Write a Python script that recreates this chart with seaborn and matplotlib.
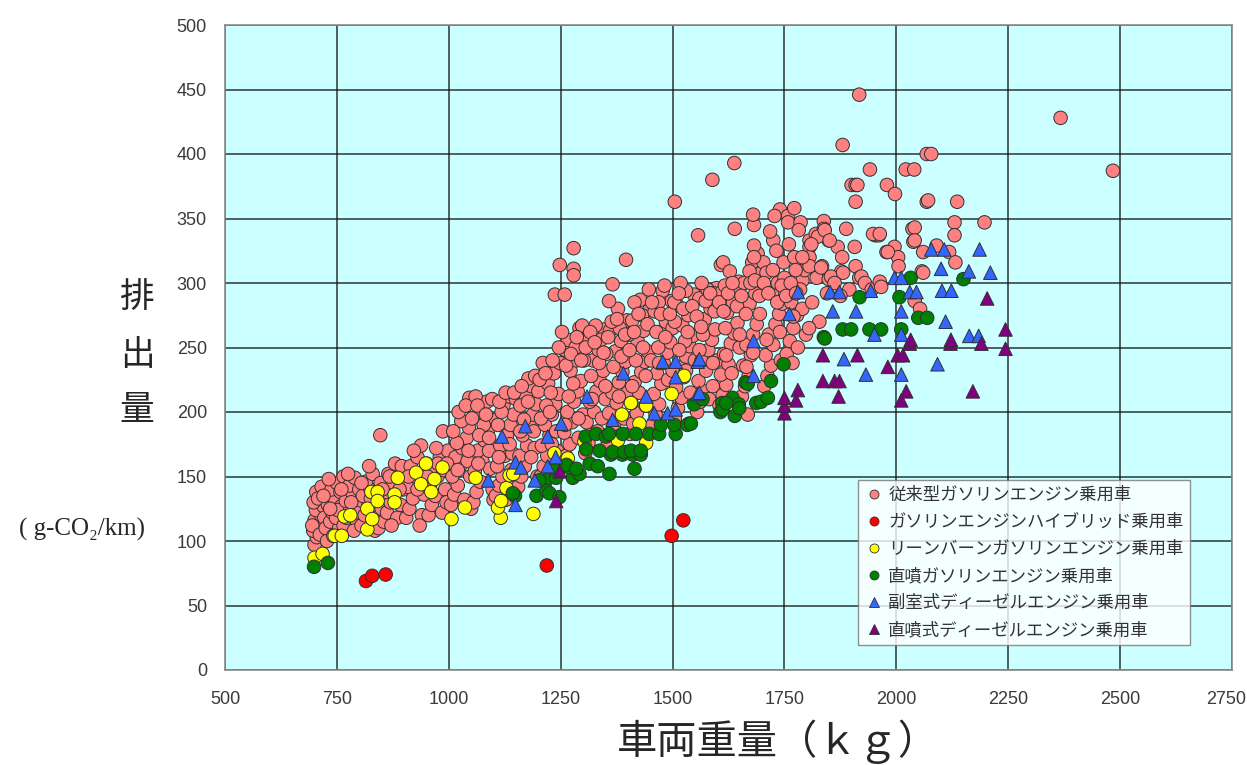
import pandas as pd
import matplotlib
matplotlib.use("Agg")
import matplotlib.pyplot as plt
import matplotlib.transforms as mtransforms
import seaborn as sns
from matplotlib.lines import Line2D

# series labels (legend order)
labels = ['従来型ガソリンエンジン乗用車', 'ガソリンエンジンハイブリッド乗用車',
          'リーンバーンガソリンエンジン乗用車', '直噴ガソリンエンジン乗用車',
          '副室式ディーゼルエンジン乗用車', '直噴式ディーゼルエンジン乗用車']

# conventional gasoline (weight kg, g-CO2/km)
conventional = [
    (700, 97), (705, 103), (697, 108), (712, 112), (700, 116), (715, 120), (703, 124), (720, 127),
    (698, 130), (710, 134), (704, 138), (716, 142), (708, 133), (722, 118), (695, 112), (712, 105),
    (725, 110), (735, 115), (740, 122), (730, 128), (745, 133), (738, 140), (750, 145), (728, 100),
    (755, 110), (748, 118), (760, 127), (732, 148), (742, 104), (758, 138), (765, 150), (752, 124),
    (765, 112), (772, 118), (780, 125), (770, 131), (785, 137), (778, 143), (790, 149), (795, 115),
    (788, 108), (798, 130), (775, 152), (800, 140), (792, 122),
    (805, 112), (812, 120), (820, 127), (808, 135), (825, 140), (815, 146), (830, 152), (840, 118),
    (845, 132), (835, 108), (848, 145), (822, 158), (850, 125), (843, 110), (847, 182),
    (855, 115), (862, 122), (870, 130), (858, 138), (875, 145), (865, 152), (880, 160), (885, 118),
    (892, 128), (898, 140), (888, 150), (872, 112), (895, 158),
    (905, 118), (912, 125), (920, 133), (908, 142), (925, 150), (915, 158), (930, 165), (940, 120),
    (945, 136), (938, 174), (948, 148), (935, 112), (950, 160), (922, 170),
    (955, 120), (962, 128), (970, 135), (958, 143), (975, 150), (965, 158), (980, 165), (985, 122),
    (992, 140), (998, 170), (988, 155), (972, 172), (995, 130), (987, 185),
    (1005, 128), (1012, 136), (1020, 143), (1008, 150), (1025, 158), (1015, 165), (1030, 172),
    (1040, 180), (1045, 188), (1028, 193), (1035, 132), (1048, 150), (1042, 162), (1018, 176),
    (1050, 125), (1046, 211),
    (1055, 130), (1062, 138), (1070, 146), (1058, 154), (1075, 162), (1065, 170), (1080, 178),
    (1088, 186), (1095, 194), (1072, 200), (1085, 208), (1060, 212), (1098, 140), (1092, 156),
    (1078, 190), (1068, 182), (1090, 170), (1100, 132),
    (1105, 135), (1112, 143), (1120, 150), (1108, 158), (1125, 166), (1115, 174), (1130, 182),
    (1138, 190), (1145, 198), (1122, 205), (1135, 212), (1110, 190), (1148, 140), (1142, 168),
    (1128, 132), (1118, 200), (1140, 155), (1150, 210),
    (1155, 142), (1162, 150), (1170, 158), (1158, 166), (1175, 174), (1165, 182), (1180, 190),
    (1188, 198), (1195, 206), (1172, 213), (1185, 220), (1160, 205), (1198, 150), (1192, 172),
    (1178, 226), (1168, 194), (1190, 185), (1200, 216),
    (1205, 150), (1212, 158), (1220, 166), (1208, 174), (1225, 182), (1215, 190), (1230, 198),
    (1238, 206), (1245, 214), (1222, 222), (1235, 230), (1210, 238), (1248, 238), (1242, 170),
    (1228, 215), (1218, 205), (1240, 185), (1250, 160), (1237, 291), (1259, 291), (1248, 314),
    (1279, 311), (1279, 306), (1279, 327),
    (1255, 158), (1262, 166), (1270, 175), (1258, 184), (1275, 192), (1265, 200), (1280, 208),
    (1288, 216), (1295, 224), (1272, 232), (1285, 240), (1260, 248), (1298, 256), (1292, 265),
    (1278, 222), (1268, 212), (1290, 180), (1300, 198), (1266, 256), (1283, 250),
    (1305, 168), (1312, 176), (1320, 184), (1308, 192), (1325, 200), (1315, 208), (1330, 216),
    (1338, 224), (1345, 232), (1322, 240), (1335, 248), (1310, 256), (1348, 264), (1328, 267),
    (1342, 195), (1318, 228), (1332, 185), (1350, 210), (1302, 240), (1340, 256), (1298, 267),
    (1355, 175), (1362, 183), (1370, 191), (1358, 199), (1375, 207), (1365, 215), (1380, 223),
    (1388, 231), (1395, 239), (1372, 247), (1385, 255), (1360, 263), (1398, 271), (1378, 280),
    (1358, 286), (1392, 195), (1368, 235), (1382, 265), (1352, 245), (1400, 215), (1366, 299),
    (1396, 318),
    (1405, 183), (1412, 191), (1420, 199), (1408, 207), (1425, 215), (1415, 223), (1430, 231),
    (1438, 239), (1445, 247), (1422, 255), (1435, 263), (1410, 271), (1448, 279), (1428, 287),
    (1415, 285), (1447, 295), (1440, 205), (1418, 240), (1432, 275), (1402, 260),
    (1455, 190), (1462, 198), (1470, 206), (1458, 214), (1475, 222), (1465, 230), (1480, 238),
    (1488, 246), (1495, 254), (1472, 262), (1485, 270), (1460, 278), (1498, 286), (1478, 294),
    (1469, 285), (1490, 225), (1468, 250), (1482, 298), (1452, 240), (1500, 265),
    (1505, 195), (1512, 203), (1520, 211), (1508, 219), (1525, 227), (1515, 235), (1530, 243),
    (1538, 251), (1545, 259), (1522, 267), (1535, 275), (1510, 283), (1548, 291), (1530, 294),
    (1518, 300), (1540, 215), (1528, 255), (1505, 270), (1550, 240), (1515, 248), (1505, 363),
    (1555, 200), (1562, 208), (1570, 216), (1558, 224), (1575, 232), (1565, 240), (1580, 248),
    (1588, 256), (1595, 264), (1572, 272), (1585, 280), (1560, 288), (1598, 296), (1578, 295),
    (1592, 292), (1565, 300), (1590, 220), (1568, 260), (1582, 210), (1600, 240), (1557, 337),
    (1589, 380), (1608, 314), (1613, 316),
    (1605, 205), (1612, 213), (1620, 221), (1608, 229), (1625, 237), (1615, 245), (1630, 253),
    (1638, 261), (1645, 269), (1622, 277), (1635, 285), (1610, 293), (1648, 301), (1628, 309),
    (1617, 298), (1642, 295), (1632, 230), (1618, 265), (1650, 250), (1668, 198), (1638, 393),
    (1639, 342),
    (1655, 212), (1662, 220), (1670, 228), (1658, 236), (1675, 244), (1665, 252), (1680, 260),
    (1688, 268), (1695, 276), (1672, 284), (1685, 292), (1660, 300), (1698, 308), (1678, 316),
    (1690, 323), (1682, 329), (1703, 316), (1672, 309), (1682, 345), (1665, 235), (1682, 320),
    (1680, 353),
    (1705, 220), (1712, 228), (1720, 236), (1708, 244), (1725, 252), (1715, 260), (1730, 268),
    (1738, 276), (1745, 284), (1722, 292), (1735, 300), (1710, 308), (1748, 316), (1725, 333),
    (1740, 357), (1728, 352), (1750, 304), (1718, 340), (1732, 325), (1742, 240),
    (1758, 352), (1758, 347), (1772, 358), (1786, 347), (1782, 341), (1772, 320), (1790, 302),
    (1755, 245), (1762, 255), (1770, 265), (1778, 275), (1765, 285), (1785, 295), (1795, 310),
    (1760, 330), (1775, 310), (1790, 280), (1798, 260), (1768, 238), (1780, 250),
    (1806, 333), (1806, 328), (1820, 338), (1838, 348), (1838, 342), (1849, 333), (1806, 320),
    (1834, 313), (1806, 313), (1822, 304), (1849, 303), (1825, 336), (1810, 330), (1832, 312),
    (1840, 341), (1812, 285), (1828, 270), (1845, 292), (1805, 265),
    (1869, 328), (1879, 320), (1877, 309), (1854, 305), (1881, 308), (1888, 342), (1851, 333),
    (1900, 376), (1909, 376), (1909, 363), (1880, 407), (1862, 300), (1895, 295), (1875, 290),
    (1913, 376), (1907, 328), (1909, 313), (1917, 304), (1922, 305), (1941, 388), (1953, 337),
    (1961, 337), (1930, 300), (1945, 295), (1917, 446),
    (1979, 376), (1997, 369), (1978, 324), (1996, 328), (2004, 320), (2005, 313), (1948, 338),
    (1963, 338), (1963, 301), (1981, 324), (1966, 297),
    (2021, 388), (2040, 388), (2036, 342), (2038, 332), (2041, 343), (2041, 333), (2057, 309),
    (2041, 286), (2053, 280),
    (2068, 400), (2078, 400), (2068, 363), (2060, 324), (2090, 329), (2071, 364), (2060, 308),
    (2136, 363), (2130, 347), (2130, 337), (2118, 324), (2132, 316),
    (2197, 347), (2367, 428), (2484, 387),
    # extra points in the dense core of the cloud
    (720, 135), (735, 125), (760, 140), (782, 130), (805, 145), (826, 133), (852, 140), (868, 150),
    (890, 140), (910, 150), (930, 140), (952, 150), (976, 160), (996, 160), (1020, 155),
    (1044, 170), (1066, 160), (1090, 180), (1112, 165), (1136, 175), (1160, 185), (1184, 165),
    (1206, 195), (1226, 200), (1010, 185), (1022, 200), (1038, 205), (1052, 195), (1064, 205),
    (1083, 198), (1097, 210), (1113, 208), (1127, 215), (1146, 215), (1163, 220), (1177, 208),
    (1193, 228), (1203, 225), (1216, 230), (1232, 240), (1246, 250), (1253, 262), (1262, 236),
    (1273, 245), (1286, 258), (1296, 240), (1306, 250), (1316, 262), (1326, 254), (1336, 238),
    (1346, 246), (1356, 258), (1364, 270), (1376, 272), (1386, 243), (1394, 260), (1404, 248),
    (1414, 262), (1424, 276), (1434, 250), (1444, 268), (1454, 285), (1464, 262), (1474, 276),
    (1484, 258), (1494, 276), (1504, 285), (1514, 292), (1524, 280), (1534, 262), (1544, 282),
    (1554, 274), (1564, 266), (1574, 286), (1584, 292), (1594, 278), (1604, 285), (1614, 278),
    (1624, 292), (1634, 300), (1644, 282), (1654, 290), (1664, 276), (1674, 300), (1684, 302),
    (1694, 290), (1704, 300), (1714, 292), (1724, 310), (1734, 285), (1744, 298), (1754, 290),
    (1764, 300), (1776, 292), (1790, 320), (1230, 175), (1260, 190), (1290, 195), (1320, 210),
    (1350, 220), (1380, 212), (1410, 220), (1440, 228), (1470, 238), (1500, 232), (1530, 232),
    (1560, 248), (1590, 238), (1620, 244), (1650, 260), (1680, 246), (1710, 256), (1740, 262),
    (1770, 274),
]

hybrid = [(815, 69), (829, 73), (859, 74), (1219, 81), (1498, 104), (1524, 116)]

lean_burn = [
    (700, 87), (718, 90), (745, 104), (761, 104), (767, 119), (780, 120), (818, 109), (818, 125),
    (829, 117), (827, 138), (841, 138), (841, 131), (879, 136), (879, 130), (886, 149), (927, 153),
    (949, 160), (938, 144), (968, 148), (986, 157), (961, 138), (1006, 117), (1036, 126),
    (1060, 149), (1116, 118), (1110, 126), (1117, 131), (1129, 141), (1136, 151), (1189, 121),
    (1144, 152), (1236, 168), (1266, 164), (1303, 177), (1378, 178), (1441, 176), (1426, 191),
    (1387, 198), (1407, 207), (1441, 205), (1498, 214), (1526, 228),
]

direct_gas = [
    (699, 80), (730, 83), (1148, 135), (1196, 135), (1218, 147), (1218, 139), (1202, 147),
    (1240, 149), (1143, 137), (1225, 137), (1247, 134), (1277, 149), (1232, 157), (1269, 157),
    (1292, 152), (1263, 159), (1285, 156), (1315, 160), (1333, 158), (1359, 152), (1415, 156),
    (1306, 181), (1329, 183), (1351, 181), (1358, 183), (1389, 183), (1418, 183), (1448, 183),
    (1470, 183), (1507, 183), (1537, 191), (1362, 167), (1388, 167), (1411, 167), (1429, 167),
    (1307, 171), (1337, 170), (1366, 169), (1392, 169), (1407, 170), (1429, 170), (1474, 190),
    (1504, 190), (1533, 190), (1548, 206), (1567, 210), (1611, 207), (1634, 211), (1648, 206),
    (1607, 200), (1639, 197), (1663, 223), (1541, 191), (1612, 202), (1620, 207), (1649, 203),
    (1687, 207), (1698, 208), (1713, 211), (1668, 222), (1720, 224), (1748, 237), (1838, 258),
    (1880, 264), (1899, 264), (1940, 264), (1966, 264), (2011, 264), (2049, 273), (2069, 273),
    (2032, 304), (1918, 289), (2007, 289), (2150, 303), (1840, 257),
]

indirect_diesel = [
    (1088, 147), (1149, 128), (1192, 147), (1149, 161), (1161, 157), (1119, 181), (1171, 189),
    (1221, 181), (1221, 158), (1239, 165), (1251, 191), (1309, 212), (1366, 194), (1390, 230),
    (1441, 212), (1459, 199), (1489, 199), (1507, 202), (1478, 239), (1507, 239), (1556, 239),
    (1507, 227), (1556, 214), (1560, 241), (1560, 215), (1681, 255), (1681, 228), (1761, 276),
    (1780, 293), (1852, 293), (1873, 293), (1943, 294), (1996, 304), (2011, 304), (2030, 293),
    (2045, 293), (2078, 326), (2107, 326), (2186, 326), (2100, 311), (2162, 309), (2210, 308),
    (2102, 294), (2123, 294), (1858, 278), (1910, 278), (2011, 278), (2110, 270), (1951, 260),
    (2011, 260), (2163, 259), (2184, 259), (1883, 241), (1932, 229), (2011, 229), (2092, 237),
]

direct_diesel = [
    (1240, 131), (1248, 154), (1750, 199), (1750, 205), (1750, 211), (1776, 209), (1780, 217),
    (1836, 244), (1913, 244), (1981, 235), (2003, 244), (2015, 244), (2030, 253), (2121, 253),
    (2190, 253), (1836, 224), (1862, 224), (1873, 224), (1871, 212), (2022, 216), (2011, 209),
    (2171, 216), (2032, 256), (2122, 256), (2203, 288), (2244, 264), (2244, 249),
]

colors = ['#FF8080', '#FF0000', '#FFFF00', '#008000', '#3366FF', '#800080']
markers = ['o', 'o', 'o', 'o', '^', '^']

series = [conventional, hybrid, lean_burn, direct_gas, indirect_diesel, direct_diesel]
df = pd.concat([pd.DataFrame(pts, columns=['weight', 'co2']).assign(kind=lab)
                for pts, lab in zip(series, labels)], ignore_index=True)

sns.set_style("white")
plt.rcParams['font.family'] = ['Noto Sans CJK JP', 'DejaVu Sans']

fig = plt.figure(figsize=(12.47, 7.65), dpi=100)
ax = fig.add_axes([225 / 1247, 1 - 670 / 765, 1007 / 1247, 645 / 765])
ax.set_facecolor('#CCFFFF')

sns.scatterplot(data=df, x='weight', y='co2', hue='kind', style='kind',
                hue_order=labels, style_order=labels,
                palette=dict(zip(labels, colors)), markers=dict(zip(labels, markers)),
                s=95, edgecolor='#303030', linewidth=0.7, legend=False, ax=ax, zorder=3)

ax.set_xlim(500, 2750)
ax.set_ylim(0, 500)
ax.set_xticks(range(500, 2751, 250))
ax.set_yticks(range(0, 501, 50))
ax.grid(True, color='#111111', linewidth=1.1, alpha=0.85, zorder=1)
ax.set_axisbelow(True)
for sp in ax.spines.values():
    sp.set_color('#8a8a8a')
    sp.set_linewidth(1.2)
ax.tick_params(length=3, color='#666666', labelsize=13, labelcolor='#3a3a3a')
ax.tick_params(axis='x', pad=12)
ax.tick_params(axis='y', pad=10)
for lab in ax.get_xticklabels() + ax.get_yticklabels():
    lab.set_fontfamily(['Liberation Sans Narrow', 'Liberation Sans'])
# nudge the last x label so it stays inside the figure
last = ax.get_xticklabels()[-1]
last.set_transform(last.get_transform() +
                   mtransforms.ScaledTranslation(-6 / 100, 0, fig.dpi_scale_trans))
ax.set_xlabel('')
ax.set_ylabel('')

handles = [Line2D([], [], linestyle='none', marker=m, markersize=6.5, markerfacecolor=c,
                  markeredgecolor='#303030', markeredgewidth=0.6)
           for m, c in zip(markers, colors)]
leg = ax.legend(handles, labels, loc='upper left',
                bbox_to_anchor=((858 - 225) / 1007, (670 - 480) / 645), borderaxespad=0,
                fontsize=12.5, frameon=True, fancybox=False, edgecolor='#777777',
                labelspacing=0.52, handletextpad=0.2, handlelength=1.2, borderpad=0.35,
                labelcolor='#333333')
leg.get_frame().set_linewidth(1.0)
leg.set_zorder(5)

# axis titles
fig.text(778 / 1247, 1 - 742 / 765, '車両重量（ｋｇ）', fontsize=29, ha='center', va='center')
for ch, yy in zip('排出量', [298, 356, 410]):
    fig.text(137 / 1247, 1 - yy / 765, ch, fontsize=25, ha='center', va='center')
fig.text(82 / 1247, 1 - 529 / 765, '( g-CO₂/km)', fontsize=18, ha='center', va='center',
         family=['Liberation Serif', 'DejaVu Serif'])

fig.savefig('out.png', dpi=100)
